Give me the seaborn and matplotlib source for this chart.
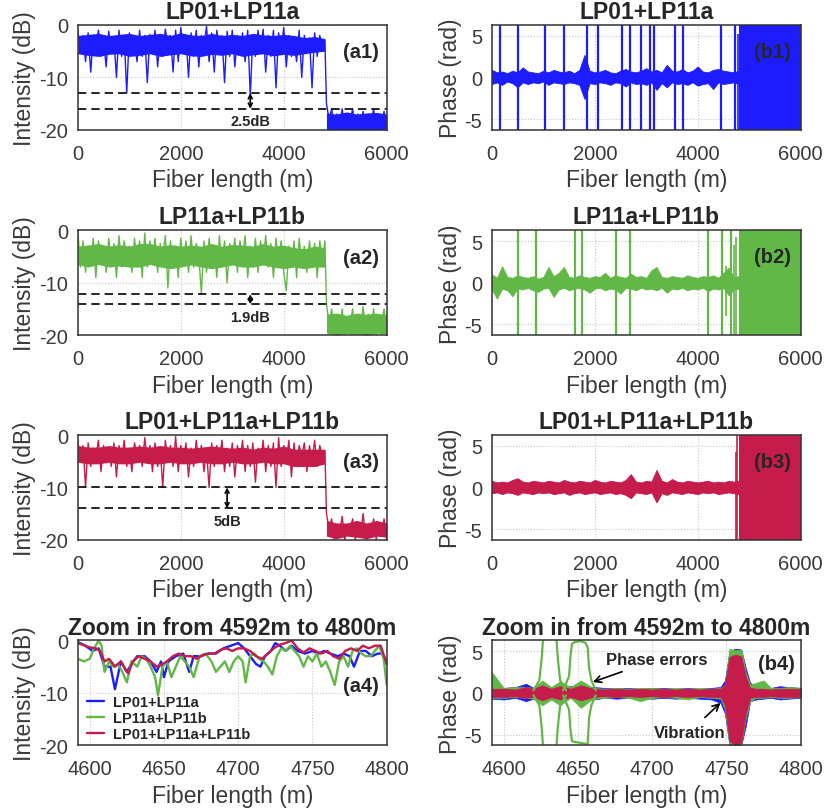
import matplotlib
matplotlib.use("Agg")
import matplotlib.pyplot as plt
import numpy as np
import pandas as pd
import seaborn as sns

sns.set_theme(style="white")
plt.rcParams['font.family'] = ['Liberation Sans', 'DejaVu Sans']
plt.rcParams['axes.unicode_minus'] = False

BLUE = '#1c1cff'
GREEN = '#62b846'
RED = '#c61c4c'
TXT = '#3a3a3a'

titles = ['LP01+LP11a', 'LP11a+LP11b', 'LP01+LP11a+LP11b']

# ---- intensity traces (dB), 0-4800 m then 4830-6000 m ----
a1_pre = [-1, -5, -2, -7, -1.5, -9, -2, -4, -1, -6, -3, -8, -1.2, -5, -2.5, -10, -1, -6, -2, -13,
          -1.5, -5, -3, -7, -1, -6, -2, -11, -1.8, -5, -1, -8, -2.2, -6, -0.8, -4, -2, -9, -1, -7,
          -0.5, -5, -2, -10, -1.5, -6, -1, -8, -2, -4, -0.3, -7, -1.5, -9, -1, -5, -2, -11, -1.2, -6,
          -1, -8, -2, -5, -1.5, -7, -1, -13.5, -2, -6, -1, -5, -0.8, -9, -2, -6, -1, -12, -1.5, -5,
          -0.5, -8, -2, -6, -3, -7, -1, -10, -2, -5, -2.5, -12, -1.5, -6, -2, -4, -3]
a1_post = [-15, -18, -16, -20, -17, -19.5, -16, -20, -17, -18.5, -16, -20, -17, -19, -16.5, -20,
           -17, -19, -16, -20, -17.5, -19, -16.5, -20]
a1_band_hi = [-2, -1.8, -1.6, -2, -1.8, -1.6, -2, -1.8, -1.6, -2, -1.5, -1.9, -2, -1.6, -2, -1.8,
              -2, -1.6, -1.9, -2, -1.8, -2, -2.4, -2.2, -2.6]
a1_band_lo = [-5.5, -5.8, -6, -5.6, -5.5, -6, -5.8, -5.5, -6, -5.7, -5.5, -5.9, -6, -5.6, -5.8, -5.5,
              -6, -5.7, -5.5, -5.9, -5.6, -5.8, -5.5, -5.2, -5]
a1_post_hi = [-16.8, -17, -16.6, -17, -16.8, -16.7, -17]
a1_post_lo = [-20, -20, -20, -20, -20, -20, -20]

a2_pre = [0, -7, -2, -8, -3, -6, -1.5, -9, -2, -5, -3, -8, -1.5, -6, -2.5, -9, -1, -7, -2, -5,
          -3, -8, -1.5, -6, -2, -9, -0.5, -7, -2, -6, -1.5, -8, -2.5, -5, -1, -11, -2, -7, -3, -9,
          -1.5, -6, -2, -8, -1, -7, -2.5, -5, -12, -2, -8, -1.5, -6, -3, -9, -1, -7, -2, -10, -2.5,
          -6, -1.5, -8, -2, -5, -1, -9, -3, -7, -1.5, -8, -2, -6, -1, -7, -2.5, -9, -1.5, -6, -2,
          -8, -11.5, -3, -7, -2, -9, -1.5, -6, -3, -8, -2, -7, -2.5, -9, -2, -6, -2]
a2_post = [-14, -18, -15, -20, -16, -19, -15, -20, -17, -18, -15, -20, -16, -19.5, -14.5, -20,
           -16, -19, -15, -20, -16.5, -18.5, -15, -19]
a2_band_hi = [-3, -2.8, -2.5, -3, -2.7, -3, -2.5, -2.5, -3, -2.7, -3, -2.8, -3, -2.5, -3, -2.7,
              -2.8, -3, -2.5, -3, -2.8, -3.3, -3.5, -3, -3.3]
a2_band_lo = [-6.5, -7, -6.5, -7, -6.8, -7, -7, -6.5, -7, -7.3, -7, -6.6, -7, -7.3, -7, -6.6,
              -7, -7, -6.6, -7, -7.3, -7, -7.3, -7, -7]
a2_post_hi = [-16, -15.8, -16.2, -15.8, -16, -15.8, -16.1]
a2_post_lo = [-19.6, -20, -19.7, -19.8, -20, -19.6, -19.8]

a3_pre = [-1, -5, -2, -10, -1.5, -6, -2.5, -4, -1, -7, -2, -5, -3, -6, -1.5, -8, -2, -5, -1, -6,
          -2.5, -7, -1.5, -4, -2, -6, -0.5, -5, -2, -7, -1.5, -6, -2.5, -10, -1, -5, -2, -6, -0.3, -7,
          -2, -5, -1.5, -8, -2.5, -6, -1, -5, -2, -7, -3, -10, -1.5, -6, -2, -5, -1, -7, -2.5, -6,
          -1.5, -8, -2, -5, -1, -7, -2, -6, -1.5, -9, -2.5, -5, -1, -7, -2, -6, -1.5, -10, -0.5, -6,
          -2, -5, -1, -8, -1.5, -6, -2, -4, -1.5, -7, -2, -5, -1, -6, -2, -4, -3]
a3_post = [-15, -18, -16, -20, -17, -19, -15.5, -20, -17, -18, -16, -20, -17, -19.5, -15, -20,
           -17, -19, -16, -20, -17, -19, -16, -20]
a3_band_hi = [-2, -2.3, -2.3, -2, -2.3, -2.3, -2.1, -2.3, -2, -2.3, -2.3, -2.5, -2.3, -2.1, -2.3, -2.5,
              -2.3, -2.7, -2.3, -2.5, -2.1, -2.7, -2.7, -2.7, -2.7]
a3_band_lo = [-5.2, -5.5, -5.5, -5.2, -5.5, -5.5, -5.2, -5.5, -5.5, -5.2, -5.5, -5.5, -5.2, -5.5, -5.5, -5.2,
              -5.5, -5.5, -5.2, -5.5, -5.5, -6, -6, -6, -5.5]
a3_post_hi = [-16.3, -16.8, -16.8, -16.3, -16.8, -16.3, -16.8]
a3_post_lo = [-19.3, -19.8, -19.3, -19.5, -19.8, -19.3, -19.5]

gap_lines = [(-13, -16, 3350, '2.5dB'), (-12.2, -14.1, 3350, '1.9dB'), (-10, -14, 2900, '5dB')]

# ---- phase panels ----
env_hi = {
    0: [0.9, 0.6, 0.7, 0.5, 0.8, 0.6, 1.2, 0.7, 0.6, 0.5, 0.8, 0.6, 0.9, 0.7, 0.6, 0.8, 0.5, 0.9, 2.7, 0.8,
        0.6, 0.7, 0.9, 0.6, 0.5, 0.8, 1.0, 0.7, 0.6, 0.8, 1.1, 0.7, 0.9, 0.6, 1.5, 0.8, 0.7, 1.0, 0.6, 0.8,
        1.3, 0.7, 0.6, 0.9, 1.0, 0.8, 0.7, 0.6, 0.8],
    1: [1.0, 0.6, 2.0, 0.7, 0.6, 0.9, 0.7, 0.6, 0.8, 0.5, 0.7, 1.9, 0.8, 1.2, 1.9, 0.7, 0.6, 0.9, 0.7, 0.6,
        0.8, 0.7, 1.2, 0.6, 0.9, 0.7, 0.6, 1.1, 0.7, 0.8, 0.6, 1.5, 1.9, 0.7, 0.6, 0.8, 0.7, 0.6, 0.9, 0.7,
        0.6, 0.8, 0.7, 0.9, 0.6, 1.2, 1.8, 0.7, 0.8],
    2: [0.8, 0.6, 0.7, 0.6, 0.9, 1.1, 0.7, 0.6, 0.8, 0.7, 0.6, 0.8, 0.7, 0.6, 0.9, 0.7, 0.6, 0.8, 0.7, 0.6,
        0.9, 0.7, 0.6, 0.8, 0.7, 0.6, 0.9, 1.6, 0.7, 0.6, 0.8, 0.7, 2.1, 0.8, 0.6, 1.0, 0.7, 0.6, 0.8, 0.7,
        0.6, 0.7, 0.8, 0.6, 0.7, 0.6, 0.8, 0.7, 0.8],
}
env_lo = {
    0: [-0.8, -0.6, -0.9, -0.5, -0.7, -1.2, -0.6, -0.8, -0.6, -0.7, -0.5, -0.9, -0.6, -0.7, -0.8, -0.6, -0.7, -0.9, -2.6, -0.7,
        -0.8, -0.6, -0.7, -0.9, -0.6, -0.7, -1.1, -0.6, -0.8, -0.7, -0.9, -0.6, -1.5, -0.7, -1.2, -0.6, -0.8, -0.7, -0.9, -0.6,
        -1.0, -0.8, -0.7, -1.4, -0.6, -0.8, -0.7, -0.6, -0.8],
    1: [-0.8, -1.9, -0.7, -0.9, -1.6, -0.7, -0.8, -0.6, -0.9, -1.1, -0.7, -0.6, -1.7, -0.8, -0.6, -0.9, -0.7, -0.6, -0.8, -1.2,
        -0.7, -0.6, -0.9, -0.7, -0.8, -1.3, -0.6, -0.7, -0.9, -0.6, -0.8, -0.7, -0.9, -0.6, -1.2, -0.7, -0.8, -0.6, -0.9, -0.7,
        -0.8, -0.6, -1.0, -0.7, -0.8, -0.6, -1.5, -0.8, -0.7],
    2: [-0.7, -0.6, -0.8, -0.6, -0.7, -0.9, -0.6, -0.7, -0.8, -0.6, -0.7, -0.6, -0.8, -0.7, -0.6, -0.9, -0.7, -0.6, -0.8, -0.7,
        -0.6, -0.8, -0.7, -0.6, -0.8, -0.7, -0.9, -1.3, -0.6, -0.7, -0.8, -0.6, -1.8, -0.7, -0.9, -0.6, -0.7, -0.8, -0.6, -0.7,
        -0.8, -0.6, -0.7, -0.6, -0.8, -0.7, -0.6, -0.7, -0.8],
}
jumps = {
    0: [161, 516, 1032, 1406, 1858, 2071, 2535, 2684, 2903, 3065, 3142, 3561, 3710, 4452, 4729],
    1: [504, 860, 1623, 1759, 2412, 2677, 4190, 4481, 4642],
    2: [],
}
partial_jumps = {
    0: [(4774, -6.3, 5.2)],
    1: [(4555, -4.0, 2.0), (4700, -6.3, 4.5), (4745, -6.3, 5.5)],
    2: [(4735, -6.3, 4.2), (4765, -6.3, 6.3)],
}
wrap_start = 4805
phase_lim = 2 * np.pi

# ---- zoom panel: intensity ----
zb_x = [4592, 4597, 4602, 4606, 4610, 4614, 4617, 4621, 4625, 4628, 4632, 4637, 4641, 4645, 4648, 4650,
        4653, 4658, 4663, 4667, 4670, 4675, 4680, 4685, 4690, 4695, 4700, 4704, 4708, 4712, 4715, 4718,
        4722, 4725, 4728, 4732, 4736, 4740, 4745, 4750, 4754, 4758, 4762, 4767, 4771, 4775, 4778, 4782,
        4786, 4790, 4794, 4797, 4800]
zb_y = [-0.3, -1, -2, -1.5, -5, -5, -9.3, -4, -6, -4.5, -3, -3, -4, -6, -4, -7,
        -4, -3, -2.5, -6, -3, -3, -2.5, -2.5, -1.5, -1, -0.5, -1.5, -3, -4.5, -5, -3,
        -2, -0.5, -1, -2, -1, -2, -2.5, -2, -2.5, -2, -2.5, -3, -2.5, -3, -5, -2,
        -2, -3, -2.5, -2.5, -4]
zr_x = [4592, 4597, 4600, 4604, 4607, 4610, 4613, 4617, 4621, 4624, 4626, 4629, 4633, 4637, 4641, 4645,
        4649, 4652, 4656, 4660, 4664, 4668, 4672, 4676, 4680, 4684, 4688, 4692, 4696, 4700, 4704, 4708,
        4712, 4716, 4720, 4724, 4728, 4732, 4736, 4740, 4744, 4748, 4752, 4756, 4760, 4764, 4768, 4772,
        4776, 4780, 4784, 4788, 4792, 4796, 4800]
zr_y = [-0.5, -1, -1.3, -1.5, -2, -4, -3.5, -5, -4, -5.5, -6.3, -4, -3, -3.5, -4, -5,
        -4.5, -4, -3, -2.5, -3, -3, -3.5, -2.8, -2.5, -2.5, -1.8, -1.5, -2, -1.5, -1.5, -2,
        -3, -3.5, -2.5, -1.5, -0.8, -0.5, 0, -1.5, -2.3, -1.5, -2, -2.5, -2, -3, -3.5, -2,
        -1.5, -2, -1, -1.5, -1, -1, -4.5]
zg_x = [4592, 4596, 4600, 4603, 4606, 4608, 4610, 4613, 4616, 4619, 4622, 4625, 4628, 4632, 4635, 4638,
        4641, 4644, 4646, 4649, 4652, 4655, 4658, 4661, 4664, 4667, 4670, 4674, 4678, 4682, 4685, 4688,
        4691, 4694, 4697, 4700, 4703, 4705, 4708, 4711, 4714, 4717, 4720, 4723, 4726, 4729, 4732, 4735,
        4738, 4741, 4744, 4747, 4750, 4753, 4756, 4759, 4762, 4765, 4768, 4771, 4774, 4777, 4780, 4783,
        4786, 4789, 4792, 4795, 4798, 4800]
zg_y = [-3.5, -4, -3.5, -1.5, 0, -1, -6, -4, -5, -4.5, -6, -8, -4, -5, -3, -3.5,
        -5, -7, -10.5, -5, -4, -7, -5, -3, -4, -5, -7, -3, -2.5, -4, -6, -5,
        -4, -6, -4, -3, -4, -8, -3, -2.5, -3.5, -4, -5, -6.5, -3, -1.5, -2, -1,
        -2, -3, -5, -3, -4, -2.5, -5, -4, -6, -8.5, -4, -3, -5, -2, -1.5, -2.5,
        -3, -3, -2, -1, -3.5, -8.5]

# ---- zoom panel: phase ----
zp_x = [4592, 4600, 4608, 4615, 4620, 4626, 4632, 4638, 4645, 4652, 4660, 4668, 4676, 4684, 4692,
        4700, 4708, 4716, 4724, 4732, 4740, 4746, 4749, 4752, 4756, 4760, 4763, 4766, 4770, 4775,
        4780, 4786, 4792, 4800]
zp_blue_hi = [0.7, 0.6, 0.7, 1.1, 0.6, 0.7, 0.6, 0.7, 0.8, 0.6, 0.7, 0.6, 0.6, 0.6, 0.5,
              0.6, 0.6, 0.5, 0.6, 0.5, 0.6, 0.7, 1.5, 5.0, 5.3, 5.2, 3.0, 1.2, 0.8, 0.7,
              0.6, 0.8, 0.7, 0.6]
zp_blue_lo = [-0.7, -0.8, -0.6, -1.0, -0.7, -0.6, -0.8, -0.7, -0.6, -0.7, -0.8, -0.6, -0.7, -0.6, -0.6,
              -0.7, -0.6, -0.7, -0.6, -0.7, -0.8, -1.2, -2.5, -6.3, -6.3, -6.3, -4.0, -1.0, -0.8, -0.7,
              -0.6, -0.8, -0.7, -0.6]
zp_green_hi = [2.5, 0.6, 0.7, 0.7, 0.6, 1.5, 0.7, 1.4, 0.7, 1.5, 0.6, 0.5, 0.6, 0.5, 0.6,
               0.6, 0.5, 0.6, 0.5, 0.6, 0.5, 0.6, 1.0, 5.3, 5.1, 5.2, 2.5, 1.0, 1.2, 1.5,
               0.6, 0.6, 0.7, 0.6]
zp_green_lo = [-0.6, -0.6, -0.5, -0.6, -0.7, -1.5, -0.8, -1.5, -0.6, -1.8, -0.7, -0.6, -0.5, -0.6, -1.0,
               -0.6, -0.5, -0.6, -0.8, -0.5, -0.6, -0.7, -2.0, -6.3, -6.3, -6.3, -3.0, -1.0, -0.6, -0.6,
               -0.5, -0.6, -0.6, -0.5]
zp_red_hi = [0.5, 0.5, 0.4, 0.7, 0.5, 0.9, 0.5, 0.8, 0.5, 0.9, 0.5, 0.4, 0.5, 0.4, 0.5,
             0.4, 0.5, 0.4, 0.5, 0.4, 0.5, 0.5, 1.0, 4.3, 4.6, 4.4, 2.0, 0.6, 0.5, 0.5,
             0.4, 0.5, 0.5, 0.5]
zp_red_lo = [-0.5, -0.5, -0.4, -0.6, -0.5, -0.9, -0.5, -0.8, -0.5, -0.9, -0.5, -0.4, -0.5, -0.4, -0.5,
             -0.4, -0.5, -0.4, -0.5, -0.4, -0.5, -0.5, -1.5, -5.8, -6.3, -6.0, -2.5, -0.6, -0.5, -0.5,
             -0.4, -0.5, -0.5, -0.5]
# green phase-error excursions
err1_x = [4620, 4624, 4625.5, 4626.5, 4628, 4634, 4635.5, 4636.5, 4638, 4642]
err1_y = [0.3, 1.5, 4, 6.5, 8, 8, 6.5, 4, 1.5, 0.3]
err2_x = [4640, 4644, 4645, 4646, 4648, 4652, 4655, 4656.5, 4657.5, 4659, 4662]
err2_up = [0.3, 2, 4.5, 5.9, 6.1, 6.2, 6.0, 5.5, 3, 1.5, 0.3]
err2_dn = [-0.3, -2, -4.5, -5.8, -5.9, -6.0, -6.1, -6.2, -3, -1.5, -0.3]

colors = [BLUE, GREEN, RED]
pre_vals = [a1_pre, a2_pre, a3_pre]
post_vals = [a1_post, a2_post, a3_post]
bands = [(a1_band_lo, a1_band_hi, a1_post_lo, a1_post_hi),
         (a2_band_lo, a2_band_hi, a2_post_lo, a2_post_hi),
         (a3_band_lo, a3_band_hi, a3_post_lo, a3_post_hi)]

fig = plt.figure(figsize=(8.28, 8.12), dpi=100)
left_x, right_x, w, h = 0.094, 0.594, 0.373, 0.129
rows_y = [0.839, 0.586, 0.334, 0.081]


def style(ax, xlim, xticks, ylim, yticks, ylabel):
    ax.set_xlim(*xlim)
    ax.set_ylim(*ylim)
    ax.set_xticks(xticks)
    ax.set_yticks(yticks)
    ax.grid(True, color='#c8c8c8', linestyle=':', linewidth=0.8)
    ax.set_axisbelow(True)
    for s in ax.spines.values():
        s.set_color('#333333')
        s.set_linewidth(1.1)
        s.set_zorder(5)
    ax.tick_params(direction='in', length=3, labelsize=14.5, colors='#333333', labelcolor=TXT, pad=10)
    ax.tick_params(axis='y', pad=7)
    ax.set_xlabel('Fiber length (m)', fontsize=16.5, color=TXT, labelpad=4)
    ax.set_ylabel(ylabel, fontsize=16.5, color=TXT, labelpad=2)


for i in range(3):
    # intensity
    ax = fig.add_axes([left_x, rows_y[i], w, h])
    blo, bhi, plo, phi = bands[i]
    bx = np.linspace(0, 4800, len(bhi))
    px = np.linspace(4830, 6000, len(phi))
    ax.fill_between(bx, blo, bhi, color=colors[i], linewidth=0)
    ax.fill_between(px, plo, phi, color=colors[i], linewidth=0)
    xs = np.concatenate([np.linspace(0, 4800, len(pre_vals[i])), np.linspace(4830, 6000, len(post_vals[i]))])
    ys = np.concatenate([pre_vals[i], post_vals[i]])
    df = pd.DataFrame({'x': xs, 'y': ys})
    sns.lineplot(data=df, x='x', y='y', ax=ax, color=colors[i], linewidth=1.0, estimator=None, sort=False)
    hi, lo, xa, lab = gap_lines[i]
    ax.axhline(hi, color='black', linestyle='--', linewidth=1.2, dashes=(5, 3))
    ax.axhline(lo, color='black', linestyle='--', linewidth=1.2, dashes=(5, 3))
    ax.annotate('', xy=(xa, lo), xytext=(xa, hi),
                arrowprops=dict(arrowstyle='<->', color='black', lw=1.2, mutation_scale=7, shrinkA=0, shrinkB=0))
    ax.text(xa, lo - 1.0, lab, ha='center', va='top', fontsize=10.5, fontweight='bold')
    ax.text(0.975, 0.745, '(a%d)' % (i + 1), transform=ax.transAxes, ha='right', va='center',
            fontsize=14.5, fontweight='bold')
    style(ax, (0, 6000), [0, 2000, 4000, 6000], (-20, 0), [-20, -10, 0], 'Intensity (dB)')
    ax.set_title(titles[i], fontsize=16.5, fontweight='bold', pad=5)

    # phase
    ax = fig.add_axes([right_x, rows_y[i], w, h])
    ex = np.linspace(0, 4800, len(env_hi[i]))
    ax.fill_between(ex, env_lo[i], env_hi[i], color=colors[i], linewidth=0.6, edgecolor=colors[i])
    if jumps[i]:
        ax.vlines(jumps[i], -phase_lim, phase_lim, color=colors[i], linewidth=1.6)
    for (jx, jlo, jhi) in partial_jumps[i]:
        ax.vlines(jx, jlo, jhi, color=colors[i], linewidth=1.2)
    ax.fill_between([wrap_start, 6000], [-phase_lim, -phase_lim], [phase_lim, phase_lim],
                    color=colors[i], linewidth=0)
    ax.text(0.91, 0.75, '(b%d)' % (i + 1), transform=ax.transAxes, ha='center', va='center',
            fontsize=14.5, fontweight='bold')
    style(ax, (0, 6000), [0, 2000, 4000, 6000], (-phase_lim, phase_lim), [-5, 0, 5], 'Phase (rad)')
    ax.set_title(titles[i], fontsize=16.5, fontweight='bold', pad=5)

# ---- (a4) zoom intensity ----
ax = fig.add_axes([left_x, rows_y[3], w, h])
zoom_df = pd.concat([
    pd.DataFrame({'x': zb_x, 'y': zb_y, 'mode': titles[0]}),
    pd.DataFrame({'x': zg_x, 'y': zg_y, 'mode': titles[1]}),
    pd.DataFrame({'x': zr_x, 'y': zr_y, 'mode': titles[2]}),
])
sns.lineplot(data=zoom_df, x='x', y='y', hue='mode', palette=colors, ax=ax, linewidth=1.7,
             estimator=None, sort=False)
leg = ax.legend(loc='lower left', frameon=False, prop={'weight': 'bold', 'size': 10.5},
                handlelength=1.2, handletextpad=0.6, borderaxespad=0.0, labelspacing=0.15,
                bbox_to_anchor=(0.01, -0.02))
ax.text(0.975, 0.57, '(a4)', transform=ax.transAxes, ha='right', va='center',
        fontsize=14.5, fontweight='bold')
style(ax, (4592, 4800), [4600, 4650, 4700, 4750, 4800], (-20, 0), [-20, -10, 0], 'Intensity (dB)')
ax.set_title('Zoom in from 4592m to 4800m', fontsize=16.5, fontweight='bold', pad=5)

# ---- (b4) zoom phase ----
ax = fig.add_axes([right_x, rows_y[3], w, h])
ax.fill_between(zp_x, zp_blue_lo, zp_blue_hi, color=BLUE, linewidth=0.5)
ax.fill_between(zp_x, zp_green_lo, zp_green_hi, color=GREEN, linewidth=0.5)
for ys in (err1_y, [-v for v in err1_y]):
    sns.lineplot(x=err1_x, y=ys, ax=ax, color=GREEN, linewidth=1.6, estimator=None, sort=False)
for ys in (err2_up, err2_dn):
    sns.lineplot(x=err2_x, y=ys, ax=ax, color=GREEN, linewidth=1.6, estimator=None, sort=False)
ax.fill_between(zp_x, zp_red_lo, zp_red_hi, color=RED, linewidth=0.5)
ax.annotate('Phase errors', xy=(4660, 1.3), xytext=(4703, 4.0), ha='center', va='center',
            fontsize=12, fontweight='bold',
            arrowprops=dict(arrowstyle='->', color='black', lw=1.2, shrinkA=3, shrinkB=0))
ax.annotate('Vibration', xy=(4746, -1.2), xytext=(4725, -4.7), ha='center', va='center',
            fontsize=12, fontweight='bold',
            arrowprops=dict(arrowstyle='->', color='black', lw=1.2, shrinkA=4, shrinkB=0))
ax.text(0.92, 0.78, '(b4)', transform=ax.transAxes, ha='center', va='center',
        fontsize=14.5, fontweight='bold')
style(ax, (4592, 4800), [4600, 4650, 4700, 4750, 4800], (-phase_lim, phase_lim), [-5, 0, 5], 'Phase (rad)')
ax.set_title('Zoom in from 4592m to 4800m', fontsize=16.5, fontweight='bold', pad=5)

fig.savefig('out.png', dpi=100, facecolor='white')
